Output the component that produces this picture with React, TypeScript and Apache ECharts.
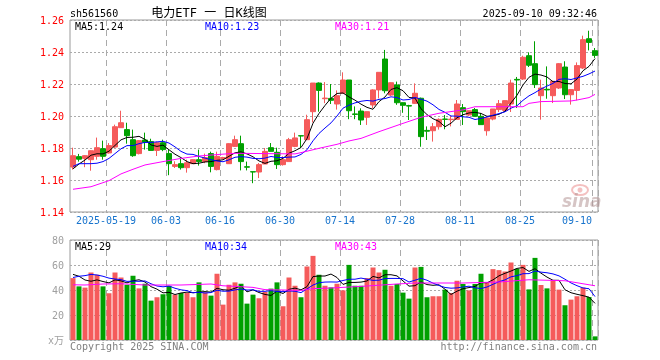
import React, { useEffect, useRef } from 'react';
import * as echarts from 'echarts';

const dates = [
  '2025-05-09','2025-05-12','2025-05-13','2025-05-14','2025-05-15','2025-05-16',
  '2025-05-19','2025-05-20','2025-05-21','2025-05-22','2025-05-23',
  '2025-05-26','2025-05-27','2025-05-28','2025-05-29','2025-05-30',
  '2025-06-03','2025-06-04','2025-06-05','2025-06-06',
  '2025-06-09','2025-06-10','2025-06-11','2025-06-12','2025-06-13',
  '2025-06-16','2025-06-17','2025-06-18','2025-06-19','2025-06-20',
  '2025-06-23','2025-06-24','2025-06-25','2025-06-26','2025-06-27',
  '2025-06-30','2025-07-01','2025-07-02','2025-07-03','2025-07-04',
  '2025-07-07','2025-07-08','2025-07-09','2025-07-10','2025-07-11',
  '2025-07-14','2025-07-15','2025-07-16','2025-07-17','2025-07-18',
  '2025-07-21','2025-07-22','2025-07-23','2025-07-24','2025-07-25',
  '2025-07-28','2025-07-29','2025-07-30','2025-07-31','2025-08-01',
  '2025-08-04','2025-08-05','2025-08-06','2025-08-07','2025-08-08',
  '2025-08-11','2025-08-12','2025-08-13','2025-08-14','2025-08-15',
  '2025-08-18','2025-08-19','2025-08-20','2025-08-21','2025-08-22',
  '2025-08-25','2025-08-26','2025-08-27','2025-08-28','2025-08-29',
  '2025-09-01','2025-09-02','2025-09-03','2025-09-04','2025-09-05',
  '2025-09-08','2025-09-09','2025-09-10',
];

const opens = [
  1.1681,1.1746,1.1735,1.1727,1.1748,1.1796,1.1769,1.1806,1.1927,1.1915,
  1.1852,1.1765,1.1850,1.1840,1.1785,1.1833,1.1765,1.1685,1.1702,1.1677,
  1.1702,1.1727,1.1715,1.1765,1.1665,1.1735,1.1702,1.1810,1.1827,1.1683,
  1.1652,1.1650,1.1700,1.1802,1.1773,1.1696,1.1715,1.1810,1.1877,1.1852,
  1.2027,1.2206,1.2108,1.2110,1.2075,1.2142,1.2225,1.2013,1.2031,1.1992,
  1.2069,1.2163,1.2356,1.2131,1.2194,1.2083,1.2065,1.2079,1.2111,1.1910,
  1.1908,1.1933,1.1981,1.1977,1.1979,1.2052,1.2006,1.2040,1.1998,1.1908,
  1.1981,1.2040,1.2035,1.2075,1.2229,1.2231,1.2377,1.2327,1.2127,1.2167,
  1.2127,1.2175,1.2306,1.2133,1.2160,1.2300,1.2483,1.2408,
];
const closes = [
  1.1752,1.1730,1.1752,1.1783,1.1802,1.1748,1.1815,1.1933,1.1958,1.1877,
  1.1752,1.1846,1.1835,1.1785,1.1833,1.1790,1.1702,1.1696,1.1677,1.1708,
  1.1727,1.1715,1.1740,1.1685,1.1748,1.1740,1.1827,1.1852,1.1715,1.1680,
  1.1650,1.1696,1.1779,1.1779,1.1696,1.1727,1.1852,1.1863,1.1875,1.1977,
  1.2206,1.2160,1.2112,1.2098,1.2127,1.2225,1.2033,1.2010,1.1975,1.2027,
  1.2163,1.2273,1.2158,1.2208,1.2083,1.2067,1.2062,1.2142,1.1871,1.1905,
  1.1933,1.1979,1.1979,1.1980,1.2075,1.2027,1.2033,1.1998,1.1946,1.1988,
  1.2044,1.2077,1.2096,1.2206,1.2225,1.2367,1.2317,1.2196,1.2175,1.2163,
  1.2217,1.2327,1.2133,1.2165,1.2315,1.2477,1.2460,1.2379,
];
const lows = [
  1.1665,1.1715,1.1680,1.1658,1.1727,1.1727,1.1765,1.1800,1.1925,1.1827,
  1.1745,1.1760,1.1790,1.1785,1.1750,1.1780,1.1630,1.1675,1.1665,1.1646,
  1.1700,1.1690,1.1705,1.1648,1.1660,1.1730,1.1700,1.1808,1.1660,1.1660,
  1.1580,1.1612,1.1700,1.1779,1.1669,1.1690,1.1715,1.1805,1.1802,1.1850,
  1.1960,1.2027,1.2080,1.2075,1.2040,1.2140,1.1980,1.1980,1.1944,1.1944,
  1.2050,1.2110,1.2142,1.2125,1.2070,1.2020,1.1975,1.2075,1.1808,1.1850,
  1.1840,1.1915,1.1917,1.1935,1.1975,1.1944,1.2000,1.1998,1.1946,1.1877,
  1.1973,1.2025,1.2025,1.2025,1.2050,1.2225,1.2306,1.2175,1.1977,1.2108,
  1.2081,1.2169,1.2106,1.2071,1.2098,1.2294,1.2410,1.2363,
];
const highs = [
  1.1802,1.1763,1.1755,1.1785,1.1865,1.1846,1.1831,1.1946,1.2033,1.1958,
  1.1915,1.1850,1.1896,1.1858,1.1840,1.1852,1.1790,1.1717,1.1733,1.1727,
  1.1729,1.1790,1.1765,1.1777,1.1777,1.1745,1.1830,1.1877,1.1877,1.1715,
  1.1652,1.1706,1.1800,1.1831,1.1802,1.1748,1.1863,1.1896,1.1879,1.2008,
  1.2206,1.2210,1.2212,1.2200,1.2160,1.2273,1.2225,1.2060,1.2048,1.2027,
  1.2167,1.2273,1.2413,1.2210,1.2215,1.2085,1.2070,1.2204,1.2115,1.1935,
  1.1956,1.1985,1.2006,1.2000,1.2100,1.2075,1.2035,1.2050,1.2019,1.1990,
  1.2044,1.2100,1.2098,1.2227,1.2244,1.2377,1.2398,1.2467,1.2227,1.2310,
  1.2217,1.2331,1.2342,1.2167,1.2335,1.2502,1.2533,1.2425,
];
// volume, unit: 万
const volumes = [
  49.5,42.9,41.9,54.0,52.2,42.9,37.4,54.0,50.0,44.2,
  51.4,41.3,45.0,31.5,34.2,36.6,43.4,36.3,37.6,37.6,
  34.2,46.1,38.1,35.5,53.0,28.3,44.2,46.1,45.0,29.1,
  36.3,33.4,38.4,41.1,46.1,27.0,50.0,43.4,34.2,58.8,
  67.3,52.2,43.4,42.1,45.0,39.7,60.1,43.4,43.4,49.5,
  58.0,54.0,56.2,43.4,44.8,37.9,33.1,58.0,58.5,34.2,
  35.0,35.0,40.3,37.6,47.4,44.8,39.7,44.8,53.0,46.4,
  56.7,55.9,54.8,62.0,57.0,60.1,40.5,65.7,44.0,41.3,
  47.4,40.3,27.8,32.3,35.0,42.0,34.4,2.9,
];

// moving-average values before enough history is visible
const ma5Head = [1.1670, 1.1700, 1.1725, 1.1755];
const ma10Head = [1.1685, 1.1702, 1.1702, 1.1702, 1.1705, 1.1715, 1.1735, 1.1765, 1.1795];
const ma30Points = [
  [0,1.1542],[3,1.1558],[6,1.1596],[8,1.1638],[10,1.1667],[12,1.1694],[15,1.1715],
  [18,1.1735],[21,1.1750],[23,1.1756],[27,1.1767],[37,1.1763],[38,1.1771],[41,1.1798],
  [44,1.1823],[46,1.1844],[48,1.1860],[51,1.1902],[55,1.1954],[58,1.1992],[61,1.2017],
  [65,1.2038],[67,1.2058],[70,1.2058],[75,1.2058],[76,1.2079],[78,1.2090],[83,1.2094],
  [84,1.2100],[86,1.2115],[87,1.2135],
];
const volMa5Head = [52.5, 51.0, 48.0, 47.0];
const volMa10Head = [50.0, 51.0, 51.5, 52.5, 52.0, 51.0, 49.5, 48.8, 48.3];
const volMa30Points = [
  [0,44.2],[2,44.0],[5,44.8],[8,45.0],[12,44.0],[18,44.0],[23,44.8],[25,43.4],[27,42.9],
  [30,42.1],[32,40.3],[38,39.7],[40,41.1],[43,41.6],[48,42.9],[54,44.8],[57,45.6],
  [65,45.6],[71,46.4],[76,48.2],[82,47.4],[87,43.4],
];

const labelIdx = [6, 16, 25, 35, 45, 55, 65, 75, 87];
const priceMin = 1.14, priceMax = 1.26, priceStep = 0.02;
const volMin = 0, volMax = 80, volStep = 20;

const RED = '#F55B5B';
const GREEN = '#00A000';
const MONO = '"DejaVu Sans Mono", "Noto Sans CJK SC", monospace';

function movingAvg(vals: number[], n: number, head: number[]) {
  return vals.map((_, i) => {
    if (i < n - 1) return head[i];
    let s = 0;
    for (let k = i - n + 1; k <= i; k++) s += vals[k];
    return +(s / n).toFixed(4);
  });
}

export default function App() {
  const ref = useRef<HTMLDivElement>(null);
  useEffect(() => {
    const chart = echarts.init(ref.current!, null, { renderer: 'svg' });
    const ma5 = movingAvg(closes, 5, ma5Head);
    const ma10 = movingAvg(closes, 10, ma10Head);
    const vma5 = movingAvg(volumes, 5, volMa5Head);
    const vma10 = movingAvg(volumes, 10, volMa10Head);
    const showIdx = (i: number) => labelIdx.includes(i);
    const vSplit = { show: true, interval: (i: number) => showIdx(i), lineStyle: { color: '#AAAAAA', type: [6, 4], width: 1 } };
    const hSplit = { show: true, lineStyle: { color: '#AAAAAA', type: [2, 2], width: 1 } };
    const line = (data: any, color: string, x: number, y: number) => ({
      type: 'line', data, xAxisIndex: x, yAxisIndex: y, showSymbol: false, symbol: 'none',
      lineStyle: { color, width: 1 }, connectNulls: true, silent: true, z: 3,
    });
    const txt = (x: number, y: number, text: string, fill: string, extra: any = {}) => ({
      type: 'text', x, y, style: { text, fill, font: `10px ${MONO}`, textVerticalAlign: 'middle', ...extra }, z: 10,
    });
    chart.setOption({
      animation: false,
      grid: [
        { left: 70, top: 20, width: 528, height: 192, show: true, borderColor: '#9A9A9A', borderWidth: 1, backgroundColor: 'transparent' },
        { left: 70, top: 240, width: 528, height: 100, show: true, borderColor: '#9A9A9A', borderWidth: 1, backgroundColor: 'transparent' },
      ],
      xAxis: [
        {
          type: 'category', gridIndex: 0, data: dates, boundaryGap: true,
          axisLine: { show: false }, axisTick: { show: false },
          axisLabel: {
            interval: (i: number) => showIdx(i), hideOverlap: false,
            color: '#1874CD', fontFamily: MONO, fontSize: 10, margin: 3, padding: [0, 6, 0, 0],
            formatter: (v: string, i: number) => i === 6 ? v : (i === 87 ? `{last|${v.slice(5)}}` : v.slice(5)),
            rich: { last: { color: '#1874CD', fontFamily: MONO, fontSize: 10, padding: [0, 30, 0, 0] } },
          },
          splitLine: vSplit,
        },
        {
          type: 'category', gridIndex: 1, data: dates, boundaryGap: true,
          axisLine: { show: false }, axisTick: { show: false }, axisLabel: { show: false },
          splitLine: vSplit,
        },
      ],
      yAxis: [
        {
          type: 'value', gridIndex: 0, min: priceMin, max: priceMax, interval: priceStep, scale: true,
          axisLine: { show: false }, axisTick: { show: false },
          axisLabel: { color: '#FF0000', fontFamily: MONO, fontSize: 10, margin: 6, formatter: (v: number) => v.toFixed(2) },
          splitLine: hSplit,
        },
        {
          type: 'value', gridIndex: 1, min: volMin, max: volMax, interval: volStep,
          axisLine: { show: false }, axisTick: { show: false },
          axisLabel: { color: '#A0A0A0', fontFamily: MONO, fontSize: 10, margin: 6, formatter: (v: number) => v === 0 ? 'x万' : String(v) },
          splitLine: hSplit,
        },
      ],
      series: [
        {
          type: 'candlestick', xAxisIndex: 0, yAxisIndex: 0, barWidth: 5,
          data: dates.map((_, i) => [opens[i], closes[i], lows[i], highs[i]]),
          itemStyle: { color: RED, color0: GREEN, borderColor: RED, borderColor0: GREEN, borderWidth: 1 },
          silent: true, z: 2,
        },
        line(ma5, '#000000', 0, 0),
        line(ma10, '#0000FF', 0, 0),
        line(ma30Points, '#FF00FF', 0, 0),
        {
          type: 'bar', xAxisIndex: 1, yAxisIndex: 1, barWidth: 5, silent: true, z: 2,
          data: volumes.map((v, i) => ({ value: v, itemStyle: { color: closes[i] >= opens[i] ? RED : GREEN } })),
        },
        line(vma5, '#000000', 1, 1),
        line(vma10, '#0000FF', 1, 1),
        line(volMa30Points, '#FF00FF', 1, 1),
      ],
      graphic: [
        txt(70, 13, 'sh561560', '#000'),
        { type: 'text', x: 209, y: 13, style: { text: '电力ETF 一 日K线图', fill: '#000', font: `12px ${MONO}`, textAlign: 'center', textVerticalAlign: 'middle' }, z: 10 },
        txt(597, 13, '2025-09-10 09:32:46', '#000', { textAlign: 'right' }),
        txt(75, 26, 'MA5:1.24', '#000'),
        txt(205, 26, 'MA10:1.23', '#0000FF'),
        txt(335, 26, 'MA30:1.21', '#FF00FF'),
        txt(75, 246, 'MA5:29', '#000'),
        txt(205, 246, 'MA10:34', '#0000FF'),
        txt(335, 246, 'MA30:43', '#FF00FF'),
        txt(70, 346, 'Copyright 2025 SINA.COM', '#808080'),
        txt(597, 346, 'http://finance.sina.com.cn', '#808080', { textAlign: 'right' }),
        { type: 'ellipse', shape: { cx: 580, cy: 190, rx: 8, ry: 5 }, style: { fill: 'none', stroke: 'rgba(235,140,140,0.55)', lineWidth: 2 }, z: 1 },
        { type: 'circle', shape: { cx: 580, cy: 190, r: 2.5 }, style: { fill: 'rgba(235,140,140,0.55)' }, z: 1 },
        { type: 'text', x: 562, y: 201, style: { text: 'sina', fill: 'rgba(180,150,150,0.55)', font: 'italic bold 17px "DejaVu Sans"', textVerticalAlign: 'middle' }, z: 1 },
      ],
    });
    return () => chart.dispose();
  }, []);
  return <div ref={ref} style={{ position: 'fixed', left: 0, top: 0, width: 660, height: 360 }} />;
}
